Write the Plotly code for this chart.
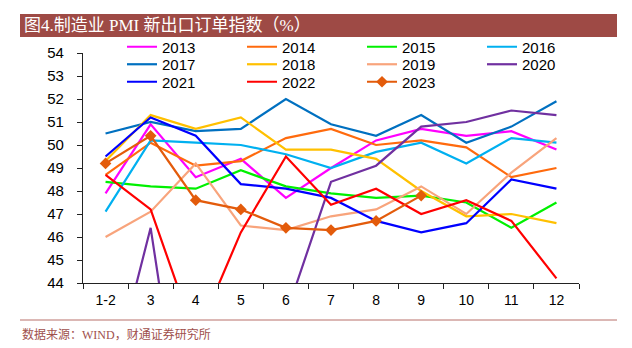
import plotly.graph_objects as go

months = ["1-2", "3", "4", "5", "6", "7", "8", "9", "10", "11", "12"]

y2013 = [47.9, 50.9, 48.6, 49.4, 47.7, 49.0, 50.2, 50.7, 50.4, 50.6, 49.8]
y2014 = [48.7, 50.1, 49.1, 49.3, 50.3, 50.7, 50.0, 50.2, 49.9, 48.6, 49.0]
y2015 = [48.4, 48.2, 48.1, 48.9, 48.2, 47.9, 47.7, 47.8, 47.5, 46.4, 47.5]
y2016 = [47.1, 50.2, 50.1, 50.0, 49.6, 49.0, 49.7, 50.1, 49.2, 50.3, 50.1]
y2017 = [50.5, 51.0, 50.6, 50.7, 52.0, 50.9, 50.4, 51.3, 50.1, 50.8, 51.9]
y2018 = [49.3, 51.3, 50.7, 51.2, 49.8, 49.8, 49.4, 48.0, 46.9, 47.0, 46.6]
y2019 = [46.0, 47.1, 49.2, 46.5, 46.3, 46.9, 47.2, 48.2, 47.0, 48.8, 50.3]
y2020 = [38.7, 46.4, 33.5, 35.3, 42.6, 48.4, 49.1, 50.8, 51.0, 51.5, 51.3]
y2021 = [49.5, 51.2, 50.4, 48.3, 48.1, 47.7, 46.7, 46.2, 46.6, 48.5, 48.1]
y2022 = [48.7, 47.2, 41.6, 46.2, 49.5, 47.4, 48.1, 47.0, 47.6, 46.7, 44.2]
y2023 = [49.2, 50.4, 47.6, 47.2, 46.4, 46.3, 46.7, 47.8]

series = [
    ("2013", y2013, "#FF00FF", "legend"),
    ("2014", y2014, "#FF6A0D", "legend"),
    ("2015", y2015, "#00F000", "legend"),
    ("2016", y2016, "#00B0F0", "legend"),
    ("2017", y2017, "#0070C0", "legend2"),
    ("2018", y2018, "#FFC000", "legend2"),
    ("2019", y2019, "#F8A47C", "legend2"),
    ("2020", y2020, "#7030A0", "legend2"),
    ("2021", y2021, "#0000FF", "legend3"),
    ("2022", y2022, "#FF0000", "legend3"),
    ("2023", y2023, "#E35B0B", "legend3"),
]

W, H = 632, 348
L, R, T, B = 83, 579, 53, 283
pw, ph = R - L, B - T


def px(x):
    return (x - L) / pw


def py(y):
    return (B - y) / ph


fig = go.Figure()
for name, vals, color, leg in series:
    if name == "2023":
        fig.add_trace(go.Scatter(
            x=months[:len(vals)], y=vals, name=name, mode="lines+markers",
            line=dict(color=color, width=2.2),
            marker=dict(symbol="diamond", size=9, color=color),
            legend=leg))
    else:
        fig.add_trace(go.Scatter(
            x=months[:len(vals)], y=vals, name=name, mode="lines",
            line=dict(color=color, width=2.2), legend=leg))

legfont = dict(family="Liberation Sans, Arial", size=15, color="#000")
legcommon = dict(orientation="h", entrywidth=75, entrywidthmode="pixels",
                 xanchor="left", yanchor="middle", x=px(122),
                 font=legfont, bgcolor="rgba(0,0,0,0)", itemclick=False)

tickfont = dict(family="Liberation Sans, Arial", size=14, color="#000")

fig.update_layout(
    width=W, height=H,
    margin=dict(l=L, r=W - R, t=T, b=H - B, pad=0),
    paper_bgcolor="white", plot_bgcolor="white",
    legend=dict(y=py(47), **legcommon),
    legend2=dict(y=py(64.5), **legcommon),
    legend3=dict(y=py(82), **legcommon),
    xaxis=dict(type="category", range=[-0.5, 10.5], tickson="boundaries",
               ticks="outside", ticklen=5, tickcolor="#222", tickwidth=1.3,
               showline=True, linecolor="#222", linewidth=1.3,
               showgrid=False, zeroline=False, ticklabelstandoff=4,
               tickfont=tickfont),
    yaxis=dict(range=[44, 54], dtick=1, ticks="outside", ticklen=5,
               tickcolor="#222", tickwidth=1.3,
               showline=True, linecolor="#222", linewidth=1.3,
               showgrid=False, zeroline=False, ticklabelstandoff=10,
               tickfont=dict(family="Liberation Sans, Arial", size=15, color="#000")),
    shapes=[
        dict(type="rect", xref="paper", yref="paper",
             x0=px(20), x1=px(617), y0=py(37), y1=py(14),
             fillcolor="#9E4A45", line=dict(width=0), layer="below"),
        dict(type="line", xref="paper", yref="paper",
             x0=px(20), x1=px(617), y0=py(320), y1=py(320),
             line=dict(color="#B8706B", width=1)),
    ],
    annotations=[
        dict(text="图4.制造业 PMI 新出口订单指数（%）", xref="paper", yref="paper",
             x=px(22), y=py(25.5), xanchor="left", yanchor="middle",
             showarrow=False,
             font=dict(family="Liberation Serif, Noto Sans CJK SC", size=17, color="white")),
        dict(text="数据来源：WIND，财通证券研究所", xref="paper", yref="paper",
             x=px(20), y=py(334), xanchor="left", yanchor="middle",
             showarrow=False,
             font=dict(family="Liberation Serif, Noto Sans CJK SC", size=12, color="#A0504C")),
    ],
    showlegend=True,
)

fig.write_html("out.html")
